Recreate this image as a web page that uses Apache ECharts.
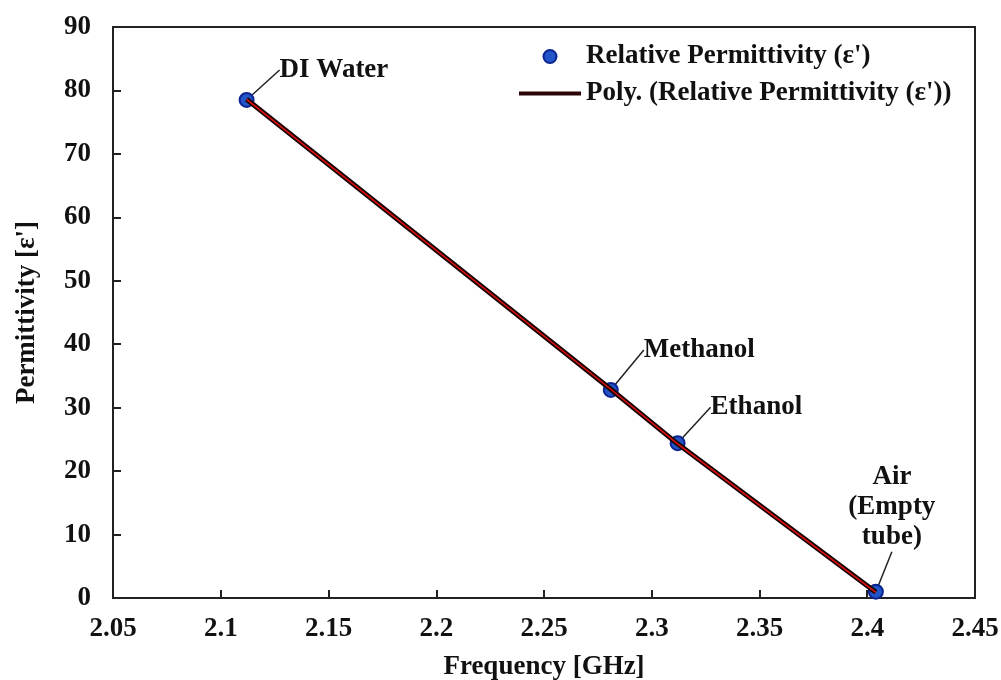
<!DOCTYPE html>
<html>
<head>
<meta charset="utf-8">
<script src="https://cdn.jsdelivr.net/npm/echarts@6/dist/echarts.min.js"></script>
<style>
html, body { margin: 0; padding: 0; background: #fff; }
#chart { width: 1001px; height: 680px; }
</style>
</head>
<body>
<div id="chart"></div>
<script>
// measured samples
const frequency = [2.112, 2.281, 2.312, 2.404];
const permittivity = [78.5, 32.8, 24.4, 1.0];
const sampleNames = ['DI Water', 'Methanol', 'Ethanol', 'Air\n(Empty\ntube)'];
// polynomial trend through the samples
const trendFreq = [2.112, 2.281, 2.312, 2.404];
const trendValue = [78.6, 32.9, 24.3, 0.9];
// axis ranges
const xRange = [2.05, 2.45, 0.05];
const yRange = [0, 90, 10];

const seriesNames = ["Relative Permittivity (ε')", "Poly. (Relative Permittivity (ε'))"];

const font = '"Liberation Serif", "DejaVu Serif", serif';
const boldText = {
  fontFamily: font, fontWeight: 'bold', fontSize: 27, color: '#111'
};
// label offsets (dx, dy) for the sample annotations
const labelShift = [
  { dx: 20, dy: -30, align: 'left' },
  { dx: 20, dy: -40, align: 'left' },
  { dx: 20, dy: -36, align: 'left' },
  { dx: 16, dy: -27, align: 'center' }
];

const chart = echarts.init(document.getElementById('chart'));

const scatterData = frequency.map((f, i) => ({
  value: [f, permittivity[i]],
  name: sampleNames[i],
  label: {
    position: labelShift[i].align === 'center' ? 'top' : 'right',
    align: labelShift[i].align
  }
}));
const trendData = trendFreq.map((f, i) => [f, trendValue[i]]);

chart.setOption({
  animation: false,
  textStyle: { fontFamily: font },
  grid: {
    left: 113, right: 26, top: 27, bottom: 82,
    outerBoundsMode: 'none',
    containLabel: false,
    show: true, borderColor: '#222', borderWidth: 2
  },
  legend: {
    data: [
      { name: seriesNames[0], icon: 'circle' },
      { name: seriesNames[1], icon: 'path://M0,0L62,0L62,4L0,4Z' }
    ],
    orient: 'vertical',
    left: 514,
    top: 38,
    itemWidth: 62,
    itemHeight: 13,
    itemGap: 10,
    symbolKeepAspect: true,
    textStyle: boldText
  },
  xAxis: {
    type: 'value',
    min: xRange[0], max: xRange[1], interval: xRange[2],
    name: 'Frequency [GHz]',
    nameLocation: 'middle',
    nameGap: 56,
    nameTextStyle: boldText,
    axisLine: { lineStyle: { color: '#222', width: 2 } },
    axisTick: { inside: true, length: 8, lineStyle: { color: '#222', width: 2 } },
    splitLine: { show: false },
    axisLabel: Object.assign({ margin: 18, formatter: v => String(+v.toFixed(2)) }, boldText)
  },
  yAxis: {
    type: 'value',
    min: yRange[0], max: yRange[1], interval: yRange[2],
    name: "Permittivity [ε']",
    nameLocation: 'middle',
    nameGap: 72,
    nameTextStyle: boldText,
    axisLine: { lineStyle: { color: '#222', width: 2 } },
    axisTick: { inside: true, length: 8, lineStyle: { color: '#222', width: 2 } },
    splitLine: { show: false },
    axisLabel: Object.assign({ margin: 22 }, boldText)
  },
  series: [
    {
      name: seriesNames[0],
      type: 'scatter',
      data: scatterData,
      symbolSize: 14,
      z: 2,
      itemStyle: { color: '#2255c8', borderColor: '#0b2490', borderWidth: 2, opacity: 1 },
      label: Object.assign({
        show: true,
        formatter: p => p.name,
        lineHeight: 30
      }, boldText),
      labelLayout: p => ({ dx: labelShift[p.dataIndex].dx, dy: labelShift[p.dataIndex].dy }),
      labelLine: { show: true, lineStyle: { color: '#222', width: 1.5 } }
    },
    {
      name: seriesNames[1],
      type: 'line',
      data: trendData,
      symbol: 'none',
      z: 3,
      color: '#2a0606',
      lineStyle: { color: '#1a0404', width: 5 }
    },
    {
      name: 'trendCore',
      type: 'line',
      data: trendData,
      symbol: 'none',
      z: 4,
      silent: true,
      lineStyle: { color: '#e01010', width: 1.5 }
    }
  ]
});
</script>
</body>
</html>
